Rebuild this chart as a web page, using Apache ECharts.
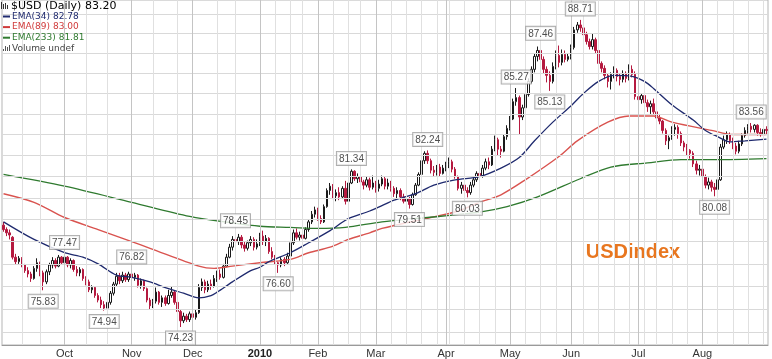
<!DOCTYPE html>
<html><head><meta charset="utf-8">
<script src="https://cdn.jsdelivr.net/npm/echarts@6/dist/echarts.min.js"></script>
<style>html,body{margin:0;padding:0;background:#fff}#c{width:772px;height:359px}</style>
</head><body><div id="c"></div>
<script>
// ---- categories: trading days Sep 2 2009 .. Aug 31 2010 ----
const firstDay = [2009, 8, 2];
const lastDay = [2010, 7, 31];
const holidays = ['2009-09-07','2009-11-26','2009-12-25','2010-01-01','2010-01-18','2010-02-15','2010-04-02','2010-05-31','2010-07-05'];
const monthNames = ['Jan','Feb','Mar','Apr','May','Jun','Jul','Aug','Sep','Oct','Nov','Dec'];

// ---- daily [open, close, low, high] ----
const ohlc = [
[78.75,78.55,78.45,78.90],[78.55,78.40,78.25,78.65],[78.40,78.30,78.10,78.55],[78.20,77.30,77.20,78.25],[77.30,77.10,76.95,77.45],
[77.10,77.25,77.00,77.35],[77.25,76.95,76.85,77.30],[76.95,76.70,76.60,77.00],[76.70,76.55,76.40,76.85],[76.55,76.35,76.20,76.65],
[76.35,76.80,76.30,76.90],[76.80,77.05,76.65,77.25],[77.05,76.60,76.45,77.10],[76.60,76.20,75.83,76.70],[76.20,76.65,76.10,76.75],
[76.65,76.95,76.50,77.05],[76.95,77.15,76.80,77.30],[77.15,76.90,76.80,77.25],[76.90,77.30,76.85,77.40],[77.30,77.05,76.95,77.35],
[77.05,77.30,77.00,77.47],[77.30,76.95,76.85,77.35],[76.95,77.15,76.80,77.25],[77.15,76.75,76.65,77.20],[76.75,76.60,76.45,76.90],
[76.60,76.75,76.45,76.85],[76.75,76.35,76.25,76.80],[76.35,76.20,76.05,76.45],[76.20,75.85,75.75,76.30],[75.85,75.95,75.70,76.05],
[75.95,75.60,75.50,76.00],[75.60,75.40,75.30,75.70],[75.40,75.20,75.05,75.55],[75.20,75.05,74.94,75.35],[75.05,75.30,74.98,75.40],
[75.30,75.70,75.20,75.80],[75.70,76.10,75.60,76.20],[76.10,76.45,76.00,76.60],[76.45,76.25,76.10,76.60],[76.25,76.50,76.15,76.65],
[76.50,76.30,76.20,76.60],[76.30,76.55,76.20,76.65],
[76.55,76.40,76.20,76.82],[76.40,76.50,76.25,76.60],[76.50,76.05,75.95,76.55],[76.05,76.25,75.90,76.35],[76.25,75.90,75.80,76.30],
[75.90,75.40,75.30,75.95],[75.40,75.15,75.00,75.50],[75.15,75.35,75.05,75.45],[75.35,75.75,75.25,75.95],[75.75,75.30,75.20,75.80],
[75.30,75.50,75.10,75.60],[75.50,75.25,75.15,75.60],[75.25,75.60,75.20,75.85],[75.60,75.75,75.50,76.00],[75.75,75.30,75.20,75.80],
[75.30,74.90,74.80,75.40],[74.90,74.50,74.23,75.00],[74.50,74.70,74.40,74.85],[74.70,74.55,74.45,74.80],[74.55,74.80,74.45,74.90],
[74.80,74.65,74.50,74.95],[74.65,74.85,74.55,75.00],[74.85,75.95,74.80,76.10],[75.95,76.20,75.80,76.35],[76.20,75.85,75.70,76.30],
[75.85,76.10,75.75,76.25],[76.10,76.00,75.85,76.30],[76.00,76.35,75.95,76.50],[76.35,76.55,76.20,76.70],[76.55,76.40,76.30,76.75],
[76.40,76.90,76.35,77.00],[76.90,77.30,76.85,77.45],[77.30,77.75,77.25,77.90],[77.75,78.10,77.60,78.25],[78.10,78.00,77.85,78.45],
[78.00,78.20,77.85,78.35],[78.20,77.85,77.70,78.30],[77.85,77.70,77.55,78.00],[77.70,77.95,77.60,78.05],[77.95,78.10,77.80,78.25],
[78.10,77.75,77.60,78.20],[77.75,77.90,77.65,78.10],
[77.90,78.25,77.80,78.40],[78.25,78.00,77.85,78.50],[78.00,78.15,77.80,78.30],[78.15,77.55,77.45,78.20],[77.55,77.30,77.20,77.75],
[77.30,77.05,76.95,77.40],[77.05,76.95,76.60,77.10],[76.95,77.20,76.85,77.30],[77.20,77.05,76.90,77.30],[77.05,77.35,77.00,77.50],
[77.35,77.95,77.30,78.05],[77.95,78.40,77.85,78.55],[78.40,78.20,78.10,78.60],[78.20,78.30,78.05,78.45],[78.30,78.15,78.00,78.40],
[78.15,78.55,78.10,78.65],[78.55,78.90,78.45,79.00],[78.90,79.25,78.80,79.40],[79.25,79.45,79.10,79.60],
[79.45,79.05,78.95,79.55],[79.05,78.90,78.80,79.20],[78.90,79.60,78.85,79.70],[79.60,80.35,79.55,80.45],[80.35,80.55,80.15,80.70],
[80.55,80.10,79.95,80.65],[80.10,80.25,79.85,80.40],[80.25,80.05,79.90,80.50],[80.05,80.45,79.95,80.55],[80.45,79.85,79.70,80.80],
[79.85,80.70,79.80,80.85],[80.70,81.25,80.65,81.34],[81.25,80.90,80.80,81.30],[80.90,81.00,80.70,81.15],[81.00,80.75,80.55,81.10],
[80.75,80.60,80.40,80.85],[80.60,80.85,80.50,81.00],[80.85,80.50,80.35,80.95],[80.50,80.70,80.40,81.05],
[80.70,80.45,80.25,80.80],[80.45,80.65,80.30,80.85],[80.65,80.90,80.55,81.05],[80.90,80.55,80.40,81.00],[80.55,80.70,80.40,80.90],
[80.70,80.45,80.30,80.80],[80.45,80.20,80.05,80.55],[80.20,80.35,80.00,80.50],[80.35,80.05,79.90,80.45],[80.05,79.85,79.75,80.20],
[79.85,79.95,79.65,80.10],[79.95,79.70,79.51,80.05],[79.70,80.15,79.65,80.25],[80.15,80.60,80.10,80.70],[80.60,81.10,80.55,81.20],
[81.10,81.75,81.00,81.85],[81.75,82.10,81.60,82.20],[82.10,81.75,81.60,82.24],[81.75,81.30,81.15,81.85],[81.30,81.20,81.00,81.50],
[81.20,81.45,81.05,81.55],[81.45,81.15,81.00,81.60],[81.15,81.40,81.10,81.55],
[81.40,81.55,81.25,81.70],[81.55,81.70,81.40,81.90],[81.70,81.35,81.20,81.80],[81.35,81.00,80.90,81.45],[81.00,80.45,80.35,81.05],
[80.45,80.60,80.20,80.75],[80.60,80.35,80.20,80.70],[80.35,80.25,80.03,80.50],[80.25,80.60,80.15,80.75],[80.60,80.85,80.50,81.00],
[80.85,81.15,80.75,81.25],[81.15,81.05,80.90,81.30],[81.05,81.40,80.95,81.55],[81.40,81.70,81.30,81.85],[81.70,81.55,81.35,81.90],
[81.55,82.30,81.50,82.45],[82.30,82.75,82.20,82.95],[82.75,82.30,82.00,82.85],[82.30,82.20,81.90,82.45],[82.20,82.90,82.15,83.00],
[82.90,83.30,82.75,83.45],
[83.30,83.75,83.20,83.90],[83.75,84.60,83.70,84.75],[84.60,84.80,84.40,85.27],[84.80,83.85,83.00,84.90],[83.85,84.30,83.70,84.45],
[84.30,84.95,84.20,85.10],[84.95,85.60,84.85,85.75],[85.60,86.20,85.50,86.35],[86.20,86.85,86.05,87.00],[86.85,87.15,86.60,87.35],
[87.15,86.70,86.50,87.46],[86.70,86.20,86.00,86.85],[86.20,85.90,85.55,86.35],[85.90,85.60,85.13,86.10],[85.60,86.35,85.50,86.55],
[86.35,86.90,86.20,87.15],[86.90,86.55,86.30,87.40],[86.55,86.95,86.40,87.20],[86.95,86.70,86.55,87.15],[86.70,86.85,86.60,87.00],
[86.85,87.30,86.70,87.45],[87.30,88.20,87.20,88.35],[88.20,88.45,88.05,88.60],[88.45,88.30,88.10,88.71],[88.30,87.95,87.80,88.45],
[87.95,87.60,87.45,88.10],[87.60,87.35,87.20,87.75],[87.35,87.70,87.20,88.00],[87.70,87.15,87.00,87.80],[87.15,86.50,86.35,87.25],
[86.50,86.25,86.05,86.60],[86.25,85.90,85.70,86.40],[85.90,85.60,85.30,86.00],[85.60,85.95,85.20,86.05],[85.95,86.15,85.75,86.35],
[86.15,85.85,85.60,86.25],[85.85,85.70,85.40,86.00],[85.70,86.00,85.55,86.15],[86.00,85.75,85.55,86.10],[85.75,86.20,85.65,86.45],
[86.20,85.95,85.80,86.40],[85.95,84.85,84.70,86.10],
[84.85,84.70,84.55,84.95],[84.70,84.90,84.50,85.00],[84.90,84.55,84.40,85.00],[84.55,84.35,84.10,84.70],[84.35,84.50,84.00,84.65],
[84.50,84.10,83.95,84.75],[84.10,83.80,83.65,84.25],[83.80,83.65,83.50,84.00],[83.65,83.20,83.05,83.70],[83.20,82.70,82.50,83.30],
[82.70,82.85,82.30,82.95],[82.85,83.25,82.75,83.40],[83.25,83.35,82.95,83.50],[83.35,83.05,82.80,83.45],[83.05,82.60,82.45,83.15],
[82.60,82.40,82.20,82.70],[82.40,82.25,82.00,82.55],[82.25,82.10,81.85,82.30],[82.10,81.60,81.45,82.20],[81.60,81.30,81.10,81.75],
[81.30,81.35,81.05,81.55],
[81.35,81.00,80.85,81.45],[81.00,80.60,80.45,81.10],[80.60,80.75,80.40,80.95],[80.75,80.50,80.30,80.85],[80.50,80.40,80.08,80.70],
[80.40,80.85,80.30,80.95],[80.85,82.40,80.80,82.55],[82.40,82.75,82.30,82.95],[82.75,83.00,82.55,83.15],[83.00,82.70,82.55,83.10],
[82.70,82.45,82.30,82.85],[82.45,82.20,82.05,82.60],[82.20,82.55,82.10,82.70],[82.55,82.95,82.45,83.05],[82.95,83.20,82.85,83.35],
[83.20,83.40,83.05,83.50],[83.40,83.25,83.10,83.56],[83.25,83.45,83.10,83.50],[83.45,83.10,82.95,83.50],[83.10,83.00,82.90,83.30],
[83.00,83.25,82.90,83.35],[83.25,83.20,83.00,83.40]
];

// ---- moving averages (day index -> value) ----
const ema34Idx = [0,10,20,26,31,37,42,48,53,59,64,68,70,75,81,84,87,94,100,107,113,120,124,128,135,141,148,156,163,169,174,180,186,190,195,200,206,210,213,219,226,230,234,238,243,250];
const ema34Val = [78.9,78.1,77.5,77.3,77.0,76.5,76.4,76.2,75.95,75.7,75.5,75.6,75.75,76.2,76.7,76.85,77.1,77.5,77.95,78.5,79.05,79.4,79.65,79.9,80.2,80.6,80.85,81.0,81.4,81.9,82.7,83.6,84.4,85.0,85.6,85.9,85.85,85.6,85.25,84.45,83.7,83.2,82.9,82.65,82.7,82.78];
const ema89Idx = [0,10,20,31,42,48,64,69,75,84,94,100,107,113,120,124,140,149,156,163,171,182,188,198,205,213,219,232,239,250];
const ema89Val = [80.2,79.8,79.1,78.55,78.0,77.7,76.9,76.8,76.9,77.05,77.2,77.5,77.75,78.1,78.4,78.6,79.1,79.4,79.8,80.15,80.85,81.95,82.7,83.6,83.9,83.9,83.6,83.2,83.0,83.0];
const ema233Idx = [0,20,42,61,75,84,94,103,112,124,139,156,165,175,189,199,211,222,233,250];
const ema233Val = [81.1,80.55,79.8,79.15,78.85,78.7,78.65,78.6,78.65,78.9,79.1,79.35,79.6,80.05,80.9,81.45,81.65,81.8,81.8,81.85];

// ---- annotated highs and lows ----
const highIdx = [20,42,76,114,139,168,176,189,245];
const highVal = [77.47,76.82,78.45,81.34,82.24,85.27,87.46,88.71,83.56];
const lowIdx = [13,33,58,90,133,152,179,233];
const lowVal = [75.83,74.94,74.23,76.60,79.51,80.03,85.13,80.08];

// ---- horizontal grid prices ----
const gridPrices = [74,75,76,77,78,79,80,81,82,83,84,85,86,87,88,89];

// ---- legend texts ----
const titleText = '$USD (Daily) 83.20';
const legendRows = [
  {text:'EMA(34) 82.78', color:'#1f2a6e'},
  {text:'EMA(89) 83.00', color:'#d03a3a'},
  {text:'EMA(233) 81.81', color:'#2f7a2f'},
  {text:'Volume undef', color:'#444'}
];
const watermark = 'USDindex';

// build dates
function pad(n){return n<10?'0'+n:''+n;}
const dates = [];
{
  let t = Date.UTC(firstDay[0], firstDay[1], firstDay[2]);
  const end = Date.UTC(lastDay[0], lastDay[1], lastDay[2]);
  while (t <= end) {
    const d = new Date(t);
    const s = d.getUTCFullYear()+'-'+pad(d.getUTCMonth()+1)+'-'+pad(d.getUTCDate());
    const wd = d.getUTCDay();
    if (wd !== 0 && wd !== 6 && holidays.indexOf(s) < 0) dates.push(s);
    t += 86400000;
  }
}
const monthStart = new Set();
const minorLines = [];
for (let i = 0; i < dates.length; i++) {
  const [y, m, dd] = dates[i].split('-').map(Number);
  if (i === 0) continue;
  const [py, pm, pd] = dates[i-1].split('-').map(Number);
  if (m !== pm) { monthStart.add(i); continue; }
  if (y === 2009) {
    const b = dd <= 10 ? 0 : dd <= 20 ? 1 : 2, pb = pd <= 10 ? 0 : pd <= 20 ? 1 : 2;
    if (b !== pb) minorLines.push(i);
  } else {
    const w = new Date(Date.UTC(y, m-1, dd)).getUTCDay();
    const pw = new Date(Date.UTC(py, pm-1, pd)).getUTCDay();
    if (w <= pw) minorLines.push(i);
  }
}

function sparse(idx, val) {
  const arr = new Array(dates.length).fill(null);
  idx.forEach((k, j) => { arr[k] = val[j]; });
  return arr;
}

const chart = echarts.init(document.getElementById('c'), null, {renderer: 'canvas'});
const labelStyle = {
  show: true, fontSize: 10, fontFamily: 'Liberation Sans', color: '#222',
  backgroundColor: '#fff', borderColor: '#9a9a9a', borderWidth: 1, padding: [2, 2, 1, 2],
  formatter: p => p.value[1].toFixed(2)
};
const txt = (x, y, text, font, fill) => ({type: 'text', x: x, y: y, z: 10,
  style: {text: text, font: font, fill: fill, align: 'left', verticalAlign: 'middle'}});
const option = {
  animation: false,
  backgroundColor: '#fff',
  grid: {left: 2, right: 4, top: 0, bottom: 14, show: true, borderColor: '#b5b5b5', borderWidth: 1},
  xAxis: {
    type: 'category', data: dates, boundaryGap: true,
    axisLine: {show: true, lineStyle: {color: '#9a9a9a'}},
    axisTick: {show: false}, splitLine: {show: false},
    axisLabel: {
      interval: (i) => monthStart.has(i),
      margin: 3, fontSize: 11, fontFamily: 'Liberation Sans', color: '#333',
      formatter: (v) => { const m = Number(v.split('-')[1]); return m === 1 ? '{b|' + v.slice(0,4) + '}' : monthNames[m-1]; },
      rich: {b: {fontWeight: 'bold', fontSize: 11, fontFamily: 'Liberation Sans', color: '#222'}}
    }
  },
  yAxis: {
    type: 'log', logBase: 10, min: 73.46, max: 89.74,
    axisLabel: {show: false}, axisLine: {show: false}, axisTick: {show: false}, splitLine: {show: false}
  },
  graphic: [
    {type:'rect', z: 10, shape:{x:1,y:2,width:1,height:7}, style:{fill:'#333'}},
    {type:'rect', z: 10, shape:{x:3,y:4,width:1,height:5}, style:{fill:'#333'}},
    {type:'rect', z: 10, shape:{x:5,y:3,width:1,height:6}, style:{fill:'#333'}},
    {type:'rect', z: 10, shape:{x:7,y:5,width:1,height:4}, style:{fill:'#333'}},
    txt(11, 6.5, titleText, '11px "DejaVu Sans"', '#000'),
    ...legendRows.map((r, k) => txt(12, 16.5 + k*10.6, r.text, '9px "DejaVu Sans"', r.color)),
    ...legendRows.slice(0,3).map((r, k) => ({type:'rect', z: 10, shape:{x:3, y: 15.5 + k*10.6, width: 7, height: 2}, style:{fill: r.color}})),
    {type:'rect', z: 10, shape:{x:3,y:49,width:1,height:2}, style:{fill:'#555'}},
    {type:'rect', z: 10, shape:{x:5,y:46,width:1,height:5}, style:{fill:'#555'}},
    {type:'rect', z: 10, shape:{x:7,y:47,width:1,height:4}, style:{fill:'#555'}},
    {type:'rect', z: 10, shape:{x:9,y:45,width:1,height:6}, style:{fill:'#555'}},
    {type:'text', x: 633, y: 252, style:{text: watermark, font: 'bold 20px "Liberation Sans"', fill: '#e8761f', align: 'center', verticalAlign: 'middle'}}
  ],
  series: [
    {
      name: 'grid', type: 'line', data: new Array(dates.length).fill(null), z: 1, silent: true,
      markLine: {
        silent: true, symbol: 'none', label: {show: false}, animation: false,
        data: [
          ...gridPrices.map(p => ({yAxis: p, lineStyle: {color: '#d9d9d9', width: 1, type: 'solid'}})),
          ...minorLines.map(i => ({xAxis: dates[i], lineStyle: {color: '#e0e0e0', width: 1, type: 'solid'}})),
          ...[...monthStart].map(i => ({xAxis: dates[i], lineStyle: {color: '#c4c4c4', width: 1, type: 'solid'}}))
        ]
      }
    },
    {
      name: '$USD', type: 'candlestick', data: ohlc, z: 3, barWidth: 2,
      itemStyle: {color: '#ffffff', color0: '#b5193f', borderColor: '#1a1a1a', borderColor0: '#b5193f', borderWidth: 1}
    },
    {name: 'EMA(89)', type: 'line', data: sparse(ema89Idx, ema89Val), connectNulls: true, smooth: 0.3, showSymbol: false, z: 4, lineStyle: {color: '#d9534f', width: 1.4}},
    {name: 'EMA(233)', type: 'line', data: sparse(ema233Idx, ema233Val), connectNulls: true, smooth: 0.3, showSymbol: false, z: 4, lineStyle: {color: '#2f7a2f', width: 1.3}},
    {name: 'EMA(34)', type: 'line', data: sparse(ema34Idx, ema34Val), connectNulls: true, smooth: 0.3, showSymbol: false, z: 4, lineStyle: {color: '#1f2a6e', width: 1.3}},
    {
      name: 'highs', type: 'scatter', z: 6, symbolSize: 1, itemStyle: {color: 'rgba(0,0,0,0)'},
      data: highIdx.map((k, j) => [k, highVal[j]]),
      label: Object.assign({}, labelStyle, {position: 'top', distance: 4})
    },
    {
      name: 'lows', type: 'scatter', z: 6, symbolSize: 1, itemStyle: {color: 'rgba(0,0,0,0)'},
      data: lowIdx.map((k, j) => [k, lowVal[j]]),
      label: Object.assign({}, labelStyle, {position: 'bottom', distance: 4})
    }
  ]
};
chart.setOption(option);
</script>
</body></html>
